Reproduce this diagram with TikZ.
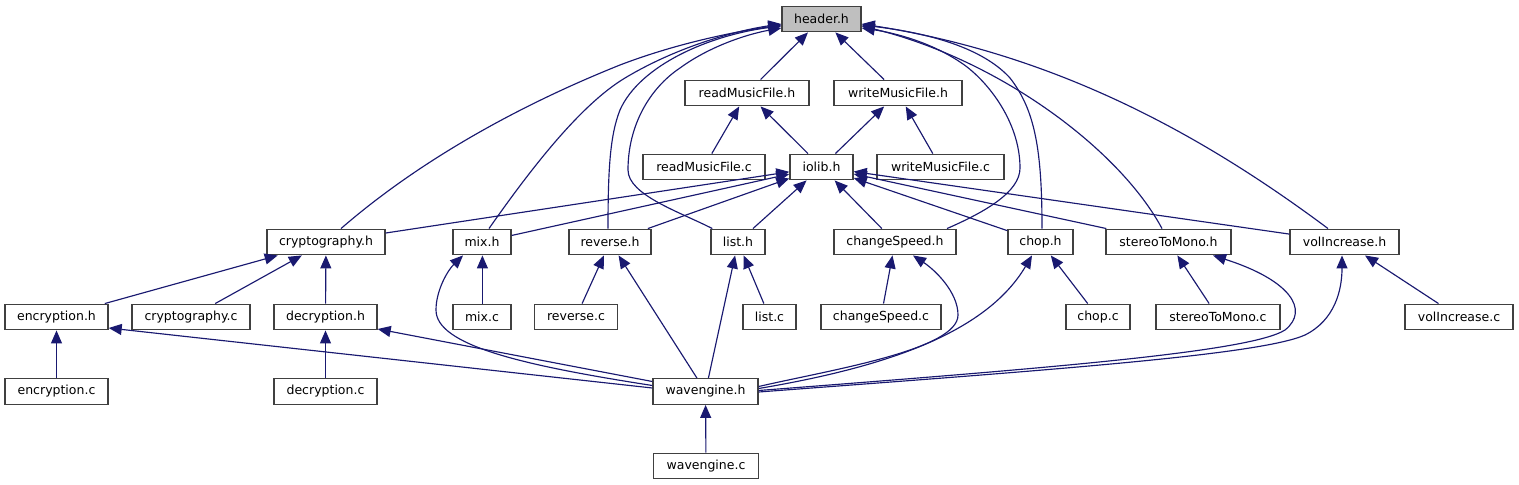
\documentclass[tikz,border=0pt]{standalone}
\usepackage{fontspec}
\setmainfont{DejaVu Sans}
\usetikzlibrary{arrows.meta,calc}
\definecolor{edgeblue}{HTML}{191970}
\definecolor{boxline}{HTML}{404040}
\definecolor{hdrfill}{HTML}{BFBFBF}
\begin{document}
\begin{tikzpicture}[x=1bp,y=-1bp,
  box/.style={draw=boxline,line width=1.4bp,fill=white,minimum height=25.5bp,inner sep=0pt,
    font=\fontsize{12.5bp}{14bp}\selectfont},
  e/.style={draw=edgeblue,line width=1.15bp,-{Triangle[length=13bp,width=11bp]}}]
\useasboundingbox (0,0) rectangle (1519,485);
% nodes
\node[box,fill=hdrfill,minimum width=79bp] (hdr) at (821.5,19) {header.h};
\node[box,minimum width=124bp] (readH) at (747,93) {readMusicFile.h};
\node[box,minimum width=128bp] (writeH) at (898,93) {writeMusicFile.h};
\node[box,minimum width=122bp] (readC) at (704,167) {readMusicFile.c};
\node[box,minimum width=63bp] (iolib) at (821.5,167) {iolib.h};
\node[box,minimum width=127bp] (writeC) at (940.5,167) {writeMusicFile.c};
\node[box,minimum width=118bp] (crypH) at (326,242) {cryptography.h};
\node[box,minimum width=58bp] (mixH) at (482,242) {mix.h};
\node[box,minimum width=82bp] (revH) at (610,242) {reverse.h};
\node[box,minimum width=54bp] (listH) at (738,242) {list.h};
\node[box,minimum width=122bp] (csH) at (895,242) {changeSpeed.h};
\node[box,minimum width=65bp] (chopH) at (1040.5,242) {chop.h};
\node[box,minimum width=125bp] (stH) at (1168.5,242) {stereoToMono.h};
\node[box,minimum width=109bp] (volH) at (1344.5,242) {volIncrease.h};
\node[box,minimum width=103bp] (encH) at (56.5,317) {encryption.h};
\node[box,minimum width=118bp] (cryC) at (191,317) {cryptography.c};
\node[box,minimum width=103bp] (decH) at (325.5,317) {decryption.h};
\node[box,minimum width=58bp] (mixC) at (482,317) {mix.c};
\node[box,minimum width=83bp] (revC) at (576,317) {reverse.c};
\node[box,minimum width=53bp] (listC) at (769.5,317) {list.c};
\node[box,minimum width=120bp] (csC) at (881,317) {changeSpeed.c};
\node[box,minimum width=64bp] (chopC) at (1098,317) {chop.c};
\node[box,minimum width=124bp] (stC) at (1218,317) {stereoToMono.c};
\node[box,minimum width=108bp] (volC) at (1459,317) {volIncrease.c};
\node[box,minimum width=103bp] (encC) at (56.5,391.5) {encryption.c};
\node[box,minimum width=103bp] (decC) at (325.5,391.5) {decryption.c};
\node[box,minimum width=105bp] (wavH) at (705.5,391.5) {wavengine.h};
\node[box,minimum width=105bp] (wavC) at (706,466) {wavengine.c};
% edges to header.h
\draw[e] (readH) -- (hdr);
\draw[e] (writeH) -- (hdr);
\draw[e] ($(crypH.north)+(15,0)$) .. controls (420,160) and (520,105) .. (620,65)
  .. controls (680,42) and (740,31) .. ($(hdr.west)+(0,6)$);
\draw[e] ($(mixH.north)+(7,0)$) .. controls (530,170) and (580,105) .. (625,78)
  .. controls (680,45) and (740,30) .. ($(hdr.west)+(0,5)$);
\draw[e] ($(revH.north)+(-2,0)$) .. controls (608,170) and (610,135) .. (620,110)
  .. controls (640,65) and (710,35) .. ($(hdr.west)+(0,7)$);
\draw[e] ($(listH.north west)+(2,0)$) .. controls (680,212) and (628,195) .. (628,170)
  .. controls (628,125) and (650,88) .. (680,68)
  .. controls (710,46) and (748,34) .. ($(hdr.west)+(0,9)$);
\draw[e] ($(csH.north)+(52,0)$) .. controls (985,212) and (1020,192) .. (1020,168)
  .. controls (1020,120) and (985,78) .. (960,62)
  .. controls (930,42) and (895,33) .. ($(hdr.east)+(0,9)$);
\draw[e] ($(chopH.north)+(1.5,0)$) .. controls (1042,150) and (1035,110) .. (1010,78)
  .. controls (980,45) and (920,32) .. ($(hdr.east)+(0,6)$);
\draw[e] ($(stH.north)+(-6.5,0)$) .. controls (1120,150) and (1000,60) .. ($(hdr.east)+(0,7)$);
\draw[e] ($(volH.north)+(-16.5,0)$) .. controls (1208,139) and (1061,55) .. ($(hdr.east)+(0,5)$);
% second level
\draw[e] (readC) -- (readH);
\draw[e] (iolib) -- (readH);
\draw[e] (iolib) -- (writeH);
\draw[e] (writeC) -- (writeH);
% iolib fan-out
\draw[e] (crypH) -- (iolib);
\draw[e] (mixH) -- (iolib);
\draw[e] (revH) -- (iolib);
\draw[e] (listH) -- (iolib);
\draw[e] (csH) -- (iolib);
\draw[e] (chopH) -- (iolib);
\draw[e] (stH) -- (iolib);
\draw[e] (volH) -- (iolib);
% row 4
\draw[e] (encH) -- (crypH);
\draw[e] (cryC) -- (crypH);
\draw[e] (decH) -- (crypH);
\draw[e] ([xshift=0.4bp]mixC.north) -- ([xshift=0.4bp]mixH.south);
\draw[e] (revC) -- (revH);
\draw[e] (listC) -- (listH);
\draw[e] (csC) -- (csH);
\draw[e] (chopC) -- (chopH);
\draw[e] (stC) -- (stH);
\draw[e] (volC) -- (volH);
\draw[e] (encC) -- (encH);
\draw[e] (decC) -- (decH);
\draw[e] (wavC) -- (wavH);
% wavengine.h edges
\draw[e] ($(wavH.west)+(0,-3.5)$) -- ($(encH.east)+(0,11)$);
\draw[e] ($(wavH.west)+(0,-10)$) -- ($(decH.east)+(0,12)$);
\draw[e] ($(wavH.west)+(0,-6)$) .. controls (520,365) and (436,345) .. (436,310)
  .. controls (436,290) and (448,270) .. ($(mixH.south)+(-19,0)$);
\draw[e] (wavH) -- (revH);
\draw[e] (wavH) -- (listH);
\draw[e] ($(wavH.east)+(0,-5)$) .. controls (830,370) and (958,350) .. (958,315)
  .. controls (958,292) and (935,270) .. ($(csH.south)+(18,0)$);
\draw[e] ($(wavH.east)+(0,-3)$) .. controls (880,368) and (985,335) .. ($(chopH.south)+(-8.5,0)$);
\draw[e] ($(wavH.east)+(0,-1)$) .. controls (1050,368) and (1250,352) .. (1285,330)
  .. controls (1310,310) and (1290,280) .. ($(stH.south)+(44.5,0)$);
\draw[e] ($(wavH.east)+(0,0.5)$) .. controls (1050,370) and (1260,355) .. (1305,335)
  .. controls (1335,320) and (1342,290) .. ($(volH.south)+(-2.5,0)$);
\end{tikzpicture}
\end{document}
